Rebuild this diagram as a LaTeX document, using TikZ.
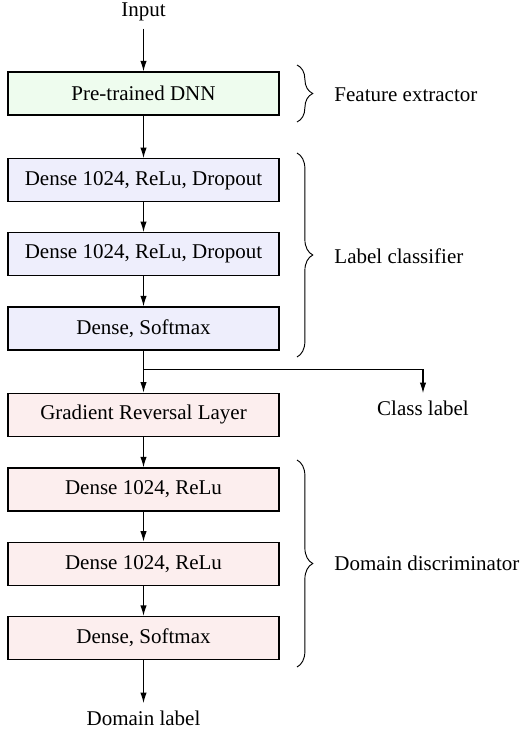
\documentclass[tikz,border=0pt]{standalone}
\usepackage{fontspec}
\setmainfont{Liberation Serif}
\usetikzlibrary{arrows.meta,decorations.pathreplacing}
\definecolor{fgreen}{HTML}{EEFCEE}
\definecolor{fblue}{HTML}{EEEEFC}
\definecolor{fred}{HTML}{FCEEEE}
\tikzset{
  layer/.style={draw=black, line width=0.6pt, minimum width=129pt, minimum height=20.4pt, inner sep=0pt, font=\fontsize{10}{12}\selectfont},
  txt/.style={font=\fontsize{10}{12}\selectfont},
  arr/.style={-{Latex[length=5pt,width=3pt]}, line width=0.55pt},
  brc/.style={decorate, decoration={brace, amplitude=7.5pt}, line width=0.45pt}
}
\begin{document}
\begin{tikzpicture}[x=0.476pt,y=-0.476pt]
\useasboundingbox (0,0) rectangle (526,733);
\node[txt] (in) at (143.5,12) {Input};
\node[layer, fill=fgreen] (dnn) at (143.5,93.5) {Pre-trained DNN};
\node[layer, fill=fblue] (c1) at (143.5,180.3) {Dense 1024, ReLu, Dropout};
\node[layer, fill=fblue] (c2) at (143.5,254.2) {Dense 1024, ReLu, Dropout};
\node[layer, fill=fblue] (c3) at (143.5,328.5) {Dense, Softmax};
\node[layer, fill=fred] (grl) at (143.5,414.7) {Gradient Reversal Layer};
\node[layer, fill=fred] (d1) at (143.5,489.5) {Dense 1024, ReLu};
\node[layer, fill=fred] (d2) at (143.5,563.8) {Dense 1024, ReLu};
\node[layer, fill=fred] (d3) at (143.5,638) {Dense, Softmax};
\node[txt] (cls) at (423,408) {Class label};
\node[txt] (dom) at (143.5,718) {Domain label};
\coordinate (br) at (143.5,369.3);
\draw[arr] (in) -- (dnn);
\draw[arr] (dnn) -- (c1);
\draw[arr] (c1) -- (c2);
\draw[arr] (c2) -- (c3);
\draw[arr] (c3) -- (grl);
\draw[arr] (br) -| (cls);
\draw[arr] (grl) -- (d1);
\draw[arr] (d1) -- (d2);
\draw[arr] (d2) -- (d3);
\draw[arr] (d3) -- (dom);
\coordinate (b1t) at (297,65);
\coordinate (b1b) at (297,122);
\coordinate (b2t) at (297,153);
\coordinate (b2b) at (297,357);
\coordinate (b3t) at (297,460);
\coordinate (b3b) at (297,667);
\draw[brc] (b1t) -- (b1b);
\draw[brc] (b2t) -- (b2b);
\draw[brc] (b3t) -- (b3b);
\node[txt, anchor=west] (fe) at (327,95) {Feature extractor};
\node[txt, anchor=west] (lc) at (327,256) {Label classifier};
\node[txt, anchor=west] (dd) at (327,563) {Domain discriminator};
\end{tikzpicture}
\end{document}
